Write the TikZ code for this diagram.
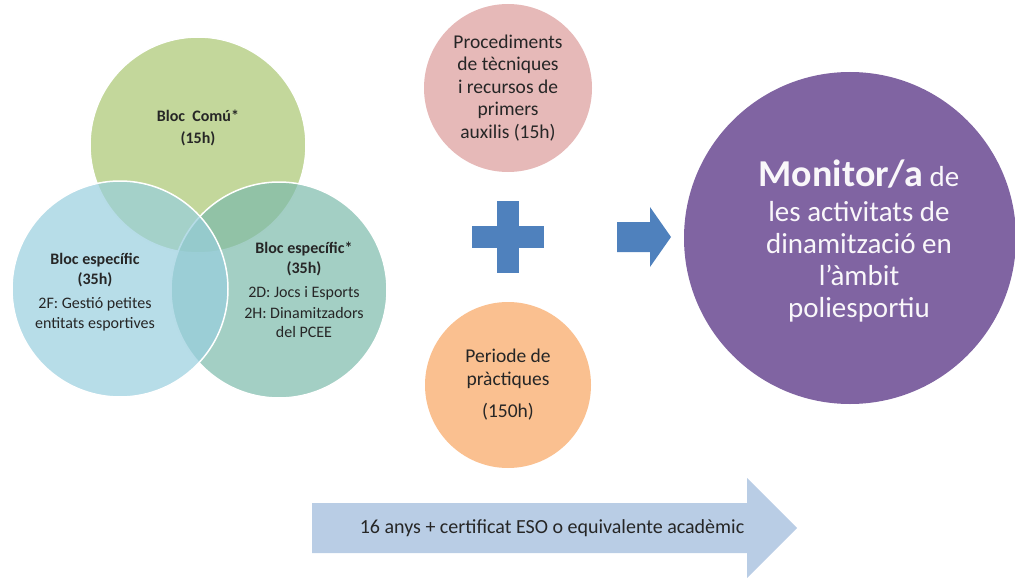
\documentclass[tikz,border=0pt]{standalone}
\usepackage{fontspec}
\setmainfont{Carlito}
\usepackage{xcolor}
\usepackage{tikz}
\usetikzlibrary{calc}
\usetikzlibrary{shapes}

\definecolor{comu}{HTML}{A9C670}
\definecolor{espf}{HTML}{98CEDE}
\definecolor{espd}{HTML}{7CBAAB}
\definecolor{aux}{HTML}{E6B9B8}
\definecolor{prac}{HTML}{FAC090}
\definecolor{mon}{HTML}{8064A2}
\definecolor{blk}{HTML}{4F81BD}
\definecolor{req}{HTML}{B9CDE5}
\definecolor{ink}{HTML}{262626}

\begin{document}
\begin{tikzpicture}[x=1pt,y=-1pt,
    venn/.style={circle,minimum size=216pt,inner sep=0pt,draw=white,line width=1.5pt,fill opacity=0.7},
    bubble/.style={circle,inner sep=0pt,align=center,text=ink},
    vtxt/.style={align=center,text=ink,font=\fontsize{16}{19.5}\selectfont}]
    \useasboundingbox (0,0) rectangle (1015,578);
    % venn of the blocs
    \draw[] (198,145) node[venn,fill=comu] (Comu) {};
    \draw[] (279,290) node[venn,fill=espd] (EspD) {};
    \draw[] (120,289) node[venn,fill=espf] (EspF) {};
    \draw[] (198,128) node[vtxt] (ComuT) {\textbf{Bloc\ \ Comú*}\\[2pt]\textbf{(15h)}};
    \draw[] (95,292) node[vtxt] (EspFT) {\textbf{Bloc\ específic}\\\textbf{(35h)}\\[5pt]2F: Gestió petites\\entitats esportives};
    \draw[] (304,290) node[vtxt] (EspDT) {\textbf{Bloc específic*}\\\textbf{(35h)}\\[5pt]2D: Jocs i Esports\\[1pt]2H: Dinamitzadors\\del PCEE};
    % the other modules
    \draw[] (508,88) node[bubble,fill=aux,minimum size=168pt,font=\fontsize{19.5}{22.5}\selectfont] (Aux) {Procediments\\de tècniques\\i recursos de\\primers\\auxilis (15h)};
    \draw[] (508,385) node[bubble,fill=prac,minimum size=166pt,font=\fontsize{19.5}{23}\selectfont] (Prac) {Periode de\\pràctiques\\[9pt](150h)};
    \fill[blk] (497,201) rectangle (519,273);
    \fill[blk] (472,226) rectangle (544,248);
    \fill[blk] (617,222) -- (650,222) -- (650,207) -- (671,237) -- (650,267) -- (650,252) -- (617,252) -- cycle;
    % result
    \draw[] (850,238) node[circle,fill=mon,minimum size=332pt,inner sep=0pt] (Mon) {};
    \draw[] (859,241) node[align=center,text=white!95!mon,font=\fontsize{29}{32}\selectfont] (MonT) {{\fontsize{38}{40}\selectfont\bfseries Monitor/a}~de\\[3pt]les activitats de\\dinamització en\\l’àmbit\\poliesportiu};
    % requirement arrow
    \fill[req] (312,503) -- (747,503) -- (747,478) -- (797,528) -- (747,578) -- (747,553) -- (312,553) -- cycle;
    \draw[] (552,528) node[text=ink,font=\fontsize{20}{22}\selectfont] (Req) {16 anys + certificat ESO o equivalente acadèmic};
  \end{tikzpicture}
\end{document}
